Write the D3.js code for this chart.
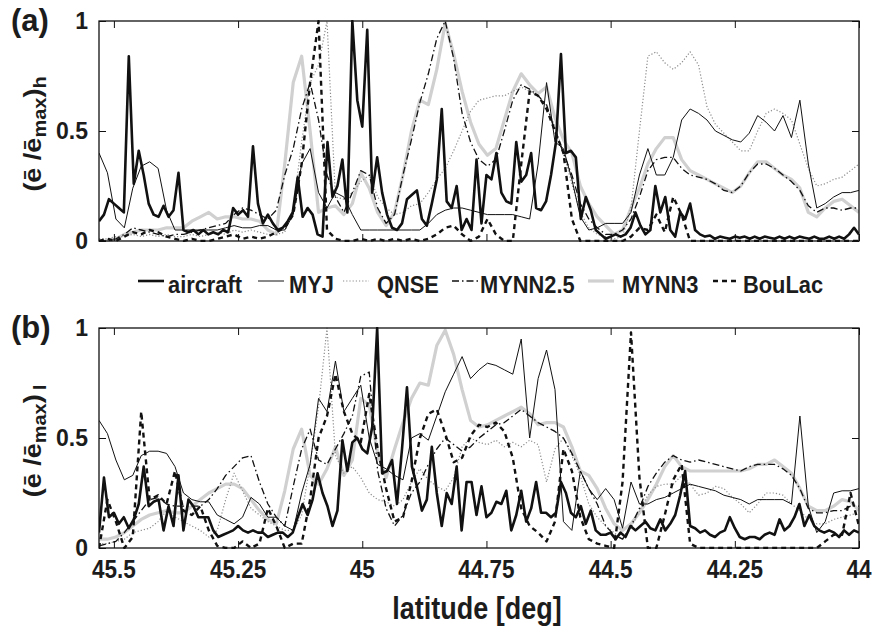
<!DOCTYPE html>
<html>
<head>
<meta charset="utf-8">
<script src="https://cdn.jsdelivr.net/npm/d3@7"></script>
<style>
  body { margin: 0; background: #fff; }
  svg { display: block; }
  text { font-family: "Liberation Sans", Arial, sans-serif; font-weight: bold; fill: #1c1c1c; }
</style>
</head>
<body>
<svg id="chart" width="872" height="626"></svg>
<script>
// Latitude grids: aircraft sampled every 0.01 deg, model output every 0.017 deg
const latAircraft = d3.range(154).map(i => +(45.53 - 0.01 * i).toFixed(3));
const latModel = d3.range(91).map(i => +(45.53 - 0.017 * i).toFixed(3));

const xTicks = [45.5, 45.25, 45, 44.75, 44.5, 44.25, 44];
const xTickLabels = ["45.5", "45.25", "45", "44.75", "44.5", "44.25", "44"];
const yTicks = [0, 0.5, 1];
const yTickLabels = ["0", "0.5", "1"];
const seriesNames = ["aircraft", "MYJ", "QNSE", "MYNN2.5", "MYNN3", "BouLac"];

// (a) normalised TKE along the flight, horizontal
const aircraftA = [0.09,0.12,0.19,0.17,0.15,0.13,0.84,0.26,0.41,0.30,
  0.17,0.12,0.11,0.16,0.11,0.14,0.31,0.05,0.04,0.05,
  0.03,0.05,0.03,0.04,0.03,0.05,0.04,0.15,0.12,0.14,
  0.11,0.43,0.17,0.08,0.12,0.08,0.05,0.06,0.09,0.13,
  0.29,0.11,0.15,0.12,0.03,0.02,0.45,0.20,0.25,0.37,
  0.13,1.00,0.64,0.52,0.96,0.22,0.38,0.22,0.12,0.06,
  0.05,0.08,0.19,0.21,0.23,0.10,0.07,0.17,0.28,0.60,
  0.18,0.15,0.25,0.05,0.10,0.05,0.37,0.08,0.30,0.28,
  0.40,0.22,0.18,0.17,0.45,0.27,0.30,0.40,0.15,0.14,
  0.18,0.30,0.45,0.85,0.40,0.41,0.38,0.10,0.20,0.14,
  0.05,0.03,0.01,0.02,0.03,0.02,0.03,0.06,0.13,0.07,
  0.03,0.05,0.25,0.13,0.20,0.05,0.02,0.13,0.10,0.17,
  0.05,0.03,0.02,0.025,0.01,0.02,0.015,0.01,0.02,0.015,
  0.02,0.01,0.02,0.01,0.02,0.015,0.01,0.02,0.01,0.02,
  0.01,0.02,0.015,0.01,0.02,0.01,0.01,0.02,0.01,0.02,
  0.01,0.03,0.06,0.03];
const myjA = [0.40,0.31,0.10,0.06,0.24,0.34,0.36,0.33,0.14,0.05,
  0.05,0.05,0.05,0.05,0.05,0.06,0.07,0.06,0.06,0.07,
  0.07,0.05,0.05,0.12,0.35,0.42,0.22,0.15,0.22,0.20,
  0.12,0.05,0.05,0.05,0.05,0.05,0.05,0.05,0.05,0.08,
  0.12,0.14,0.15,0.15,0.14,0.13,0.12,0.12,0.12,0.12,
  0.11,0.10,0.35,0.72,0.45,0.42,0.28,0.11,0.05,0.06,
  0.08,0.08,0.08,0.13,0.30,0.42,0.30,0.30,0.38,0.55,
  0.60,0.58,0.55,0.50,0.48,0.46,0.45,0.49,0.57,0.54,
  0.50,0.57,0.47,0.64,0.35,0.15,0.17,0.20,0.22,0.22,
  0.23];
const qnseA = [0.01,0.01,0.02,0.02,0.03,0.02,0.03,0.02,0.03,0.02,
  0.02,0.03,0.02,0.03,0.04,0.03,0.05,0.04,0.05,0.04,
  0.03,0.03,0.04,0.15,0.45,0.72,0.80,1.00,0.20,0.19,
  0.22,0.27,0.30,0.20,0.15,0.12,0.13,0.16,0.17,0.22,
  0.28,0.33,0.41,0.50,0.59,0.64,0.65,0.66,0.66,0.68,
  0.70,0.68,0.66,0.61,0.52,0.40,0.26,0.13,0.06,0.03,
  0.02,0.01,0.02,0.15,0.50,0.84,0.86,0.81,0.78,0.81,
  0.86,0.80,0.61,0.53,0.49,0.45,0.41,0.41,0.50,0.58,
  0.60,0.58,0.55,0.44,0.33,0.25,0.26,0.28,0.29,0.32,
  0.35];
const mynn25A = [0.00,0.00,0.01,0.03,0.06,0.05,0.04,0.03,0.02,0.03,
  0.03,0.04,0.05,0.06,0.07,0.08,0.12,0.15,0.14,0.12,
  0.10,0.14,0.30,0.42,0.60,0.72,0.55,0.30,0.20,0.13,
  0.22,0.32,0.30,0.15,0.08,0.12,0.30,0.46,0.63,0.76,
  0.92,1.00,0.83,0.58,0.45,0.37,0.34,0.37,0.50,0.64,
  0.71,0.69,0.66,0.62,0.50,0.40,0.30,0.17,0.10,0.06,
  0.03,0.03,0.05,0.10,0.20,0.32,0.37,0.38,0.38,0.33,
  0.30,0.29,0.28,0.26,0.23,0.22,0.25,0.31,0.35,0.35,
  0.33,0.30,0.27,0.23,0.16,0.13,0.15,0.15,0.14,0.15,
  0.15];
const mynn3A = [0.00,0.00,0.01,0.03,0.04,0.05,0.05,0.05,0.06,0.06,
  0.06,0.09,0.11,0.13,0.10,0.11,0.11,0.10,0.10,0.09,
  0.05,0.03,0.35,0.72,0.84,0.50,0.13,0.15,0.16,0.12,
  0.17,0.31,0.24,0.13,0.07,0.13,0.30,0.50,0.64,0.62,
  0.78,0.99,0.85,0.68,0.54,0.44,0.39,0.42,0.55,0.68,
  0.76,0.71,0.67,0.70,0.56,0.46,0.40,0.25,0.17,0.11,
  0.07,0.03,0.05,0.15,0.24,0.35,0.42,0.47,0.47,0.37,
  0.32,0.30,0.28,0.26,0.24,0.22,0.25,0.31,0.36,0.36,
  0.33,0.30,0.28,0.24,0.13,0.11,0.15,0.18,0.19,0.16,
  0.13];
const boulacA = [0.00,0.01,0.00,0.02,0.04,0.03,0.05,0.04,0.02,0.01,
  0.00,0.01,0.00,0.00,0.01,0.02,0.03,0.01,0.02,0.01,
  0.02,0.04,0.06,0.12,0.35,0.72,1.00,0.05,0.01,0.00,
  0.00,0.01,0.00,0.01,0.00,0.01,0.00,0.01,0.00,0.01,
  0.03,0.06,0.07,0.03,0.00,0.02,0.10,0.03,0.00,0.00,
  0.35,0.68,0.66,0.60,0.50,0.40,0.10,0.00,0.00,0.00,
  0.00,0.00,0.00,0.02,0.06,0.05,0.12,0.04,0.20,0.12,
  0.00,0.00,0.00,0.00,0.00,0.00,0.00,0.00,0.00,0.00,
  0.00,0.00,0.00,0.00,0.00,0.00,0.00,0.00,0.00,0.00,
  0.00];

// (b) normalised TKE along the flight, lateral
const aircraftB = [0.07,0.32,0.14,0.16,0.11,0.14,0.09,0.13,0.20,0.37,
  0.19,0.21,0.22,0.08,0.19,0.10,0.33,0.08,0.22,0.19,
  0.14,0.14,0.14,0.08,0.05,0.06,0.07,0.08,0.10,0.08,
  0.07,0.08,0.07,0.07,0.05,0.06,0.07,0.07,0.05,0.07,
  0.14,0.20,0.15,0.22,0.34,0.25,0.19,0.10,0.17,0.49,
  0.35,0.48,0.50,0.45,0.43,0.55,1.00,0.34,0.35,0.40,
  0.20,0.45,0.73,0.37,0.28,0.17,0.22,0.46,0.25,0.10,
  0.25,0.20,0.37,0.08,0.30,0.30,0.15,0.28,0.14,0.16,
  0.21,0.20,0.26,0.08,0.15,0.26,0.12,0.18,0.30,0.16,
  0.16,0.14,0.16,0.30,0.25,0.16,0.14,0.19,0.11,0.17,
  0.08,0.06,0.06,0.07,0.04,0.07,0.05,0.10,0.08,0.10,
  0.12,0.09,0.08,0.13,0.08,0.11,0.15,0.24,0.35,0.10,
  0.09,0.07,0.08,0.06,0.05,0.07,0.08,0.14,0.09,0.05,
  0.04,0.05,0.05,0.04,0.06,0.07,0.06,0.13,0.08,0.10,
  0.14,0.20,0.10,0.15,0.10,0.08,0.07,0.08,0.07,0.05,
  0.08,0.06,0.08,0.07];
const myjB = [0.58,0.52,0.40,0.31,0.33,0.42,0.44,0.44,0.43,0.37,
  0.25,0.22,0.21,0.21,0.15,0.13,0.11,0.14,0.23,0.20,
  0.14,0.14,0.10,0.08,0.25,0.38,0.68,0.62,0.85,0.62,
  0.68,0.74,0.50,0.38,0.36,0.33,0.31,0.50,0.52,0.49,
  0.60,0.71,0.79,0.87,0.77,0.81,0.84,0.83,0.81,0.79,
  0.95,0.50,0.77,0.90,0.72,0.12,0.08,0.35,0.27,0.22,
  0.27,0.22,0.09,0.30,0.20,0.20,0.22,0.23,0.25,0.27,
  0.29,0.28,0.27,0.26,0.24,0.23,0.22,0.20,0.22,0.22,
  0.22,0.22,0.20,0.60,0.19,0.07,0.12,0.25,0.26,0.26,
  0.27];
const qnseB = [0.02,0.02,0.03,0.04,0.07,0.08,0.09,0.12,0.17,0.14,
  0.12,0.10,0.08,0.05,0.08,0.22,0.34,0.26,0.18,0.15,
  0.12,0.10,0.08,0.08,0.15,0.38,0.64,1.00,0.42,0.34,
  0.37,0.32,0.25,0.22,0.21,0.19,0.22,0.30,0.36,0.31,
  0.28,0.26,0.32,0.46,0.50,0.48,0.47,0.49,0.46,0.48,
  0.46,0.49,0.47,0.30,0.45,0.50,0.42,0.33,0.20,0.14,
  0.10,0.07,0.04,0.09,0.17,0.24,0.28,0.29,0.29,0.33,
  0.29,0.24,0.25,0.28,0.27,0.23,0.20,0.16,0.20,0.25,
  0.25,0.24,0.20,0.17,0.13,0.11,0.11,0.13,0.14,0.15,
  0.16];
const mynn25B = [0.01,0.02,0.03,0.07,0.12,0.17,0.22,0.23,0.20,0.19,
  0.19,0.19,0.19,0.22,0.27,0.33,0.37,0.41,0.42,0.30,
  0.20,0.14,0.10,0.28,0.45,0.54,0.40,0.38,0.45,0.52,
  0.60,0.78,0.80,0.35,0.18,0.10,0.15,0.25,0.30,0.38,
  0.45,0.50,0.47,0.44,0.46,0.50,0.53,0.56,0.57,0.60,
  0.63,0.60,0.57,0.55,0.53,0.50,0.43,0.35,0.27,0.20,
  0.10,0.06,0.04,0.10,0.18,0.28,0.34,0.39,0.42,0.40,
  0.39,0.40,0.39,0.38,0.37,0.36,0.35,0.37,0.38,0.38,
  0.38,0.36,0.33,0.27,0.18,0.16,0.16,0.17,0.17,0.19,
  0.19];
const mynn3B = [0.04,0.04,0.05,0.07,0.10,0.13,0.15,0.16,0.17,0.16,
  0.16,0.19,0.22,0.25,0.27,0.29,0.29,0.27,0.22,0.17,
  0.13,0.11,0.26,0.45,0.54,0.33,0.29,0.36,0.46,0.33,
  0.40,0.68,0.65,0.43,0.32,0.45,0.57,0.68,0.75,0.74,
  0.92,0.99,0.88,0.72,0.58,0.55,0.56,0.58,0.60,0.62,
  0.64,0.61,0.56,0.57,0.57,0.55,0.46,0.35,0.33,0.27,
  0.18,0.11,0.08,0.11,0.16,0.22,0.29,0.37,0.42,0.37,
  0.35,0.35,0.35,0.35,0.35,0.35,0.35,0.36,0.38,0.38,
  0.40,0.37,0.34,0.27,0.19,0.17,0.17,0.19,0.22,0.21,
  0.17];
const boulacB = [0.00,0.22,0.12,0.00,0.05,0.62,0.22,0.24,0.20,0.35,
  0.17,0.15,0.19,0.08,0.01,0.00,0.00,0.03,0.00,0.02,
  0.18,0.10,0.00,0.02,0.02,0.22,0.50,0.60,0.79,0.62,
  0.52,0.48,0.70,0.45,0.27,0.12,0.14,0.30,0.50,0.61,
  0.63,0.52,0.39,0.41,0.51,0.56,0.55,0.57,0.53,0.41,
  0.18,0.10,0.07,0.03,0.12,0.45,0.35,0.14,0.04,0.02,
  0.01,0.00,0.30,0.98,0.32,0.00,0.00,0.15,0.31,0.38,
  0.02,0.00,0.00,0.00,0.00,0.00,0.00,0.00,0.00,0.00,
  0.00,0.00,0.00,0.00,0.00,0.00,0.03,0.06,0.06,0.25,
  0.10];

// Line styles per series
const styles = {
  "aircraft": { stroke: "#111", width: 2.6, dash: null },
  "MYJ":      { stroke: "#111", width: 1.0, dash: null },
  "QNSE":     { stroke: "#8c8c8c", width: 1.2, dash: "1.2,2" },
  "MYNN2.5":  { stroke: "#111", width: 1.3, dash: "7,3,1.5,3" },
  "MYNN3":    { stroke: "#d0d0d0", width: 3.2, dash: null },
  "BouLac":   { stroke: "#111", width: 2.4, dash: "5,4" }
};
const drawOrder = ["MYNN3", "QNSE", "MYJ", "MYNN2.5", "BouLac", "aircraft"];

const panels = [
  { id: "a", top: 21, bottom: 241, tag: "(a)", sub: "h",
    data: { "aircraft": aircraftA, "MYJ": myjA, "QNSE": qnseA, "MYNN2.5": mynn25A, "MYNN3": mynn3A, "BouLac": boulacA } },
  { id: "b", top: 328, bottom: 548, tag: "(b)", sub: "\u2009l",
    data: { "aircraft": aircraftB, "MYJ": myjB, "QNSE": qnseB, "MYNN2.5": mynn25B, "MYNN3": mynn3B, "BouLac": boulacB } }
];

const svg = d3.select("#chart");
const plotLeft = 99, plotRight = 859;
const x = d3.scaleLinear().domain([45.53, 44]).range([plotLeft, plotRight]);

panels.forEach((p, pi) => {
  const y = d3.scaleLinear().domain([0, 1]).range([p.bottom, p.top]);
  const g = svg.append("g");

  g.append("clipPath").attr("id", "clip-" + p.id)
    .append("rect").attr("x", plotLeft).attr("y", p.top - 1)
    .attr("width", plotRight - plotLeft).attr("height", p.bottom - p.top + 2);

  const lines = g.append("g").attr("clip-path", `url(#clip-${p.id})`);
  drawOrder.forEach(name => {
    const st = styles[name];
    const lat = name === "aircraft" ? latAircraft : latModel;
    const line = d3.line().x((d, i) => x(lat[i])).y(d => y(d));
    lines.append("path")
      .datum(p.data[name])
      .attr("d", line)
      .attr("fill", "none")
      .attr("stroke", st.stroke)
      .attr("stroke-width", st.width)
      .attr("stroke-linejoin", "round")
      .attr("stroke-dasharray", st.dash);
  });

  // inward ticks on all four sides
  const tickLen = -7;
  const axes = [
    [d3.axisBottom(x).tickValues(xTicks), `translate(0,${p.bottom})`],
    [d3.axisTop(x).tickValues(xTicks), `translate(0,${p.top})`],
    [d3.axisLeft(y).tickValues(yTicks), `translate(${plotLeft},0)`],
    [d3.axisRight(y).tickValues(yTicks), `translate(${plotRight},0)`]
  ];
  axes.forEach(([ax, tr]) => {
    const a = g.append("g").attr("transform", tr)
      .call(ax.tickSize(tickLen).tickFormat(""));
    a.select(".domain").remove();
    a.selectAll("line").attr("stroke", "#111").attr("stroke-width", 1);
  });

  g.append("rect").attr("x", plotLeft).attr("y", p.top)
    .attr("width", plotRight - plotLeft).attr("height", p.bottom - p.top)
    .attr("fill", "none").attr("stroke", "#111").attr("stroke-width", 1.3);

  // y tick labels
  yTicks.forEach((t, i) => {
    g.append("text").attr("x", 88).attr("y", y(t)).attr("dy", "0.36em")
      .attr("text-anchor", "end").attr("font-size", 23).text(yTickLabels[i]);
  });

  // panel tag
  g.append("text").attr("x", 11).attr("y", p.top + 10).attr("font-size", 31).text(p.tag);

  // y axis title, rotated
  const yc = (p.top + p.bottom) / 2 + 3;
  const t = g.append("text")
    .attr("transform", `translate(41,${yc}) rotate(-90) scale(1,0.9)`)
    .attr("text-anchor", "middle").attr("font-size", 27);
  t.append("tspan").text("(\u0113 /\u0113");
  t.append("tspan").attr("font-size", 20).attr("dy", 6).text("max");
  t.append("tspan").attr("dy", -6).text(")");
  t.append("tspan").attr("font-size", 20).attr("dy", 6).text(p.sub);

  // x tick labels under the lower panel
  if (pi === 1) {
    xTicks.forEach((v, i) => {
      g.append("text")
        .attr("transform", `translate(${x(v)},578) scale(0.9,1)`)
        .attr("text-anchor", "middle").attr("font-size", 25).text(xTickLabels[i]);
    });
    g.append("text")
      .attr("transform", `translate(${(plotLeft + plotRight) / 2 - 2},619) scale(0.87,1)`)
      .attr("text-anchor", "middle").attr("font-size", 31).text("latitude [deg]");
  }
});

// legend between the panels
const legendLineX = [138, 258, 343, 452, 588, 713];
const legendTextX = [168, 289, 377, 480, 622, 743];
const legend = svg.append("g");
seriesNames.forEach((name, i) => {
  const st = styles[name];
  legend.append("line")
    .attr("x1", legendLineX[i]).attr("x2", legendLineX[i] + 26)
    .attr("y1", 281).attr("y2", 281)
    .attr("stroke", st.stroke).attr("stroke-width", st.width)
    .attr("stroke-dasharray", st.dash);
  legend.append("text")
    .attr("transform", `translate(${legendTextX[i]},293) scale(0.95,1)`)
    .attr("font-size", 23).text(name);
});
</script>
</body>
</html>
